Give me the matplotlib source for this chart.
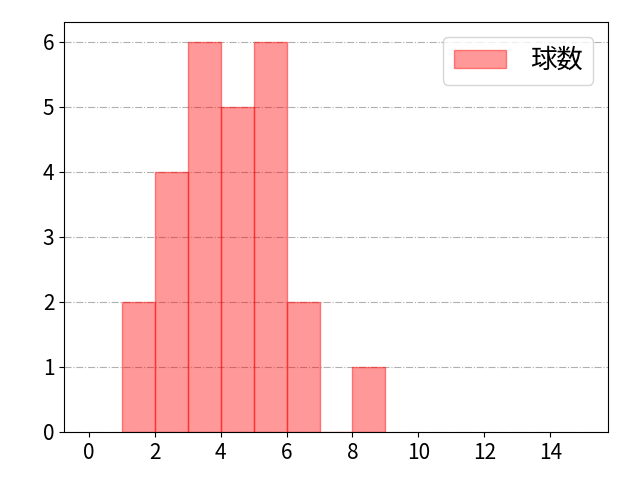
import matplotlib

matplotlib.use("Agg")
import matplotlib.pyplot as plt

plt.rcParams["font.family"] = ["Noto Sans CJK JP", "DejaVu Sans"]
plt.rcParams["font.size"] = 15

# histogram bins (left edges, width 1) and counts
bin_left = [1, 2, 3, 4, 5, 6, 7, 8]
counts = [2, 4, 6, 5, 6, 2, 0, 1]
label = "球数"
xticks = [0, 2, 4, 6, 8, 10, 12, 14]

fig, ax = plt.subplots(figsize=(6.4, 4.8), dpi=100)
ax.bar(bin_left, counts, width=1, align="edge", color=(1, 0, 0, 0.4),
       edgecolor=(1, 0, 0, 0.45), linewidth=1, label=label)
ax.set_xlim(-0.75, 15.75)
ax.set_ylim(0, 6.3)
ax.set_xticks(xticks)
ax.grid(axis="y", linestyle="-.", color="#b0b0b0", linewidth=0.8)
ax.set_axisbelow(True)
ax.legend(loc="upper right", fontsize=19, handletextpad=0.9, borderaxespad=0.55)
fig.subplots_adjust(left=0.1, right=0.95, top=0.954, bottom=0.1)
fig.savefig("out.png", dpi=100)
